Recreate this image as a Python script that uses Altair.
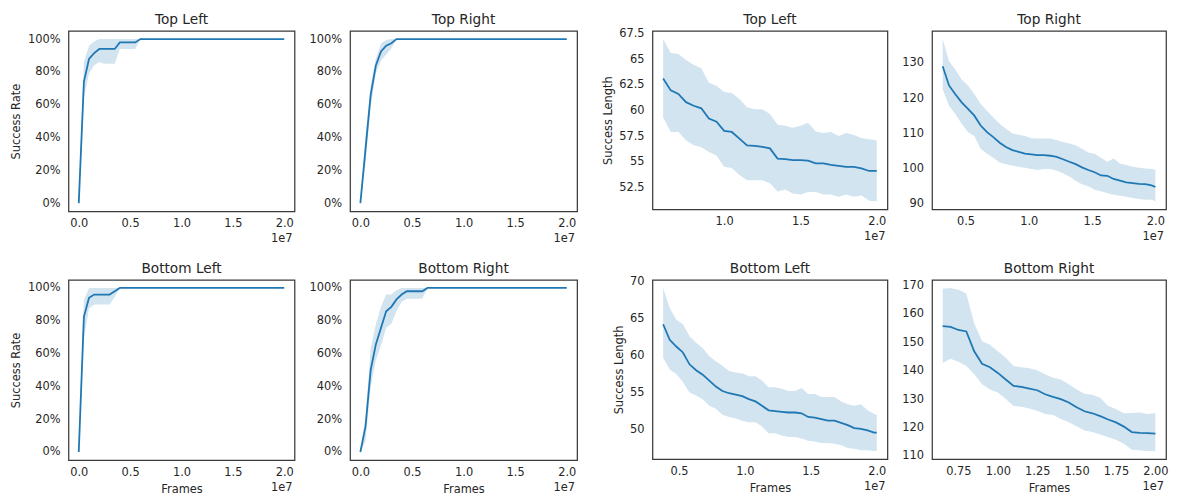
import altair as alt
import pandas as pd

FONT = "DejaVu Sans"
INK = "#262626"
BLUE = "#1f77b4"

# ---------------- Success rate (frames in units of 1e7) ----------------
sr_tl_frames = [0.0, 0.05, 0.1, 0.15, 0.2, 0.25, 0.3, 0.35, 0.4, 0.45, 0.5, 0.55, 0.6, 2.0]
sr_tl_mean = [0.0, 0.74, 0.88, 0.915, 0.94, 0.94, 0.94, 0.94, 0.98, 0.98, 0.98, 0.98, 1.0, 1.0]
sr_tl_hi = [0.0, 0.86, 0.96, 0.985, 1.0, 1.0, 1.0, 1.0, 1.0, 1.0, 1.0, 1.0, 1.0, 1.0]
sr_tl_lo = [0.0, 0.64, 0.79, 0.84, 0.86, 0.85, 0.85, 0.85, 0.94, 0.94, 0.94, 0.94, 1.0, 1.0]

sr_tr_frames = [0.0, 0.05, 0.1, 0.15, 0.2, 0.25, 0.3, 0.35, 2.0]
sr_tr_mean = [0.0, 0.33, 0.66, 0.84, 0.925, 0.96, 0.975, 1.0, 1.0]
sr_tr_hi = [0.0, 0.42, 0.72, 0.88, 0.975, 0.995, 1.0, 1.0, 1.0]
sr_tr_lo = [0.0, 0.24, 0.59, 0.79, 0.87, 0.905, 0.945, 1.0, 1.0]

sr_bl_frames = [0.0, 0.05, 0.1, 0.15, 0.2, 0.25, 0.3, 0.35, 0.4, 2.0]
sr_bl_mean = [0.0, 0.824, 0.94, 0.96, 0.96, 0.96, 0.96, 0.98, 1.0, 1.0]
sr_bl_hi = [0.0, 0.925, 1.0, 1.0, 1.0, 1.0, 1.0, 1.0, 1.0, 1.0]
sr_bl_lo = [0.0, 0.69, 0.875, 0.90, 0.90, 0.90, 0.90, 0.945, 1.0, 1.0]

sr_br_frames = [0.0, 0.05, 0.1, 0.15, 0.2, 0.25, 0.3, 0.35, 0.4, 0.45, 0.5, 0.55, 0.6, 0.65, 2.0]
sr_br_mean = [0.0, 0.156, 0.50, 0.656, 0.757, 0.858, 0.885, 0.93, 0.96, 0.98, 0.98, 0.98, 0.98, 1.0, 1.0]
sr_br_hi = [0.0, 0.217, 0.63, 0.78, 0.885, 0.96, 0.96, 0.986, 1.0, 1.0, 1.0, 1.0, 1.0, 1.0, 1.0]
sr_br_lo = [0.0, 0.065, 0.40, 0.56, 0.65, 0.757, 0.78, 0.86, 0.915, 0.935, 0.935, 0.935, 0.935, 1.0, 1.0]

# ---------------- Success length ----------------
sl_tl_frames = [0.6, 0.65, 0.7, 0.75, 0.8, 0.85, 0.9, 0.95, 1.0, 1.05, 1.1, 1.15, 1.2, 1.25, 1.3,
                1.35, 1.4, 1.45, 1.5, 1.55, 1.6, 1.65, 1.7, 1.75, 1.8, 1.85, 1.9, 1.95, 2.0]
sl_tl_mean = [63.1, 61.95, 61.6, 60.8, 60.45, 60.2, 59.2, 58.9, 58.0, 57.9, 57.25, 56.6, 56.55, 56.45, 56.3,
              55.3, 55.25, 55.15, 55.15, 55.1, 54.85, 54.85, 54.7, 54.6, 54.5, 54.5, 54.35, 54.1, 54.1]
sl_tl_hi = [66.95, 65.6, 65.5, 64.9, 64.45, 64.1, 62.7, 62.4, 61.8, 61.7, 61.1, 60.3, 60.1, 60.1, 59.65,
            58.6, 58.5, 58.3, 58.5, 58.8, 57.95, 57.8, 57.9, 57.5, 57.8, 57.6, 57.3, 57.2, 57.1]
sl_tl_lo = [59.3, 57.9, 57.9, 57.1, 56.6, 56.4, 55.96, 55.6, 54.5, 54.4, 53.7, 53.2, 53.2, 53.2, 52.9,
            52.1, 52.3, 51.9, 51.8, 52.05, 52.05, 51.8, 51.8, 51.6, 51.8, 51.6, 51.7, 51.2, 51.15]

sl_tr_frames = [0.32, 0.37, 0.42, 0.47, 0.52, 0.57, 0.62, 0.67, 0.72, 0.77, 0.82, 0.87, 0.92, 0.97,
                1.02, 1.07, 1.12, 1.17, 1.22, 1.27, 1.32, 1.37, 1.42, 1.47, 1.52, 1.57, 1.62, 1.67,
                1.72, 1.77, 1.82, 1.87, 1.92, 1.97, 2.0]
sl_tr_mean = [129.06, 123.6, 121.1, 118.8, 116.9, 115.0, 112.2, 110.3, 108.9, 107.3, 106.1, 105.2, 104.7,
              104.2, 104.0, 103.8, 103.8, 103.6, 103.3, 102.6, 101.9, 101.2, 100.3, 99.55, 98.9, 98.0,
              97.9, 97.0, 96.5, 96.0, 95.8, 95.6, 95.5, 95.15, 94.7]
sl_tr_hi = [136.8, 130.5, 128.1, 125.3, 123.6, 121.1, 118.3, 116.4, 114.5, 112.7, 111.3, 109.9, 109.6,
            109.2, 108.6, 108.5, 108.5, 108.5, 108.0, 107.5, 107.05, 106.6, 105.6, 104.5, 104.2, 103.0,
            101.9, 102.8, 101.4, 101.0, 100.5, 100.2, 100.0, 99.8, 99.55]
sl_tr_lo = [122.5, 117.8, 115.5, 112.7, 110.3, 109.2, 105.6, 104.2, 103.0, 101.7, 101.2, 100.8, 100.5,
            100.2, 99.8, 99.55, 99.8, 99.8, 99.3, 98.6, 97.7, 96.5, 95.5, 94.9, 93.9, 93.5, 93.0, 92.5,
            92.2, 91.9, 91.6, 91.3, 91.1, 91.1, 90.65]

sl_bl_frames = [0.38, 0.43, 0.48, 0.53, 0.58, 0.63, 0.68, 0.73, 0.78, 0.83, 0.88, 0.93, 0.98, 1.03,
                1.08, 1.13, 1.18, 1.23, 1.28, 1.33, 1.38, 1.43, 1.48, 1.53, 1.58, 1.63, 1.68, 1.73,
                1.78, 1.83, 1.88, 1.93, 1.98, 2.0]
sl_bl_mean = [64.2, 62.1, 61.2, 60.4, 58.8, 58.0, 57.4, 56.6, 55.8, 55.2, 54.9, 54.7, 54.5, 54.1, 53.8,
              53.2, 52.6, 52.5, 52.4, 52.3, 52.3, 52.2, 51.7, 51.6, 51.4, 51.2, 51.2, 50.9, 50.6, 50.2,
              50.1, 49.9, 49.6, 49.6]
sl_bl_hi = [69.1, 66.4, 64.8, 64.2, 62.6, 61.7, 61.0, 59.9, 59.2, 58.6, 57.9, 57.7, 57.6, 57.2, 57.2,
            56.6, 55.7, 55.7, 55.5, 55.2, 55.2, 55.6, 54.8, 54.8, 54.4, 54.4, 54.4, 53.8, 53.4, 53.2,
            53.4, 52.6, 52.1, 52.0]
sl_bl_lo = [59.7, 58.1, 57.5, 56.4, 55.0, 54.6, 54.1, 53.2, 52.8, 52.0, 51.7, 51.5, 51.2, 51.0, 51.0,
            50.4, 49.5, 49.5, 49.2, 49.0, 49.0, 48.8, 48.5, 48.4, 48.2, 48.2, 48.1, 47.9, 47.5, 47.4,
            47.2, 47.2, 47.1, 47.1]

sl_br_frames = [0.65, 0.7, 0.75, 0.8, 0.85, 0.9, 0.95, 1.0, 1.05, 1.1, 1.15, 1.2, 1.25, 1.3, 1.35,
                1.4, 1.45, 1.5, 1.55, 1.6, 1.65, 1.7, 1.75, 1.8, 1.85, 1.9, 1.95, 2.0]
sl_br_mean = [155.7, 155.4, 154.3, 153.8, 146.8, 142.4, 141.2, 139.2, 136.9, 134.6, 134.3, 133.7, 133.1,
              131.7, 130.8, 130.0, 128.8, 127.1, 125.7, 125.0, 124.0, 122.8, 121.8, 120.3, 118.4, 118.1,
              118.0, 117.8]
sl_br_hi = [168.8, 169.1, 168.5, 167.1, 156.7, 150.3, 149.1, 146.8, 144.5, 141.6, 141.2, 140.8, 140.1,
            138.7, 137.5, 136.9, 135.2, 133.4, 131.9, 131.5, 130.5, 127.6, 126.5, 125.0, 125.1, 125.3,
            124.7, 125.0]
sl_br_lo = [142.7, 144.2, 143.1, 141.6, 138.7, 135.2, 133.4, 132.3, 130.0, 127.6, 127.3, 126.7, 125.9,
            124.7, 124.4, 123.0, 121.8, 120.4, 118.9, 118.4, 117.5, 116.6, 115.7, 114.3, 112.2, 112.0,
            111.7, 111.7]

# tick values
sr_xticks = [0.0, 0.5, 1.0, 1.5, 2.0]
sr_yticks = [0.0, 0.2, 0.4, 0.6, 0.8, 1.0]
sl_tl_xticks = [1.0, 1.5, 2.0]
sl_tl_yticks = [52.5, 55, 57.5, 60, 62.5, 65, 67.5]
sl_tr_xticks = [0.5, 1.0, 1.5, 2.0]
sl_tr_yticks = [90, 100, 110, 120, 130]
sl_bl_xticks = [0.5, 1.0, 1.5, 2.0]
sl_bl_yticks = [50, 55, 60, 65, 70]
sl_br_xticks = [0.75, 1.0, 1.25, 1.5, 1.75, 2.0]
sl_br_yticks = [110, 120, 130, 140, 150, 160, 170]


def panel(x, mean, lo, hi, title, W, H, T, B, L, xticks, xfmt, yticks, yfmt,
          ytitle="", ytpad=0, xtitle=""):
    df = pd.DataFrame({"frames": x, "mean": mean, "lo": lo, "hi": hi})
    xr = max(x) - min(x)
    yr = max(hi) - min(lo)
    xs = alt.Scale(domain=[min(x) - 0.05 * xr, max(x) + 0.05 * xr], nice=False, zero=False)
    ys = alt.Scale(domain=[min(lo) - 0.05 * yr, max(hi) + 0.05 * yr], nice=False, zero=False)
    xaxis = alt.Axis(values=xticks, format=xfmt, title=xtitle, labelPadding=6.7,
                     minExtent=16, maxExtent=16, titlePadding=7.7)
    yaxis = alt.Axis(values=yticks, format=yfmt, title=ytitle, labelPadding=8.5,
                     minExtent=24, maxExtent=24, titlePadding=ytpad)
    band = alt.Chart(df).mark_area(color=BLUE, opacity=0.2).encode(
        x=alt.X("frames:Q", scale=xs, axis=xaxis),
        y=alt.Y("lo:Q", scale=ys, axis=yaxis),
        y2="hi:Q",
    )
    line = alt.Chart(df).mark_line(color=BLUE, strokeWidth=1.8).encode(
        x=alt.X("frames:Q", scale=xs, axis=xaxis),
        y=alt.Y("mean:Q", scale=ys, axis=yaxis),
    )
    offset_txt = alt.Chart(pd.DataFrame({"t": ["1e7"]})).mark_text(
        align="right", baseline="alphabetic", font=FONT, fontSize=11.5, color=INK,
        fontWeight="normal"
    ).encode(x=alt.value(W - 2), y=alt.value(H + 31), text="t:N")
    title_txt = alt.Chart(pd.DataFrame({"t": [title]})).mark_text(
        align="center", baseline="alphabetic", font=FONT, fontSize=13.8, color=INK,
        fontWeight="normal"
    ).encode(x=alt.value(W / 2), y=alt.value(-6.6), text="t:N")
    box = alt.Chart(pd.DataFrame({"t": [0]})).mark_rect(opacity=0).encode(
        x=alt.value(-L), x2=alt.value(W + 1), y=alt.value(-T), y2=alt.value(H + B)
    )
    return alt.layer(box, band, line, offset_txt, title_txt).properties(width=W, height=H)


p1 = panel(sr_tl_frames, sr_tl_mean, sr_tl_lo, sr_tl_hi, "Top Left", 228, 182, 18, 46, 60,
           sr_xticks, ".1f", sr_yticks, ".0%", ytitle="Success Rate", ytpad=23)
p2 = panel(sr_tr_frames, sr_tr_mean, sr_tr_lo, sr_tr_hi, "Top Right", 229, 182, 18, 46, 53,
           sr_xticks, ".1f", sr_yticks, ".0%")
p3 = panel(sl_tl_frames, sl_tl_mean, sl_tl_lo, sl_tl_hi, "Top Left", 237, 180, 20, 46, 73,
           sl_tl_xticks, ".1f", sl_tl_yticks, ".1~f", ytitle="Success Length", ytpad=15)
p4 = panel(sl_tr_frames, sl_tr_mean, sl_tr_lo, sl_tr_hi, "Top Right", 236, 180, 20, 46, 42,
           sl_tr_xticks, ".1f", sl_tr_yticks, ".1~f")
p5 = panel(sr_bl_frames, sr_bl_mean, sr_bl_lo, sr_bl_hi, "Bottom Left", 228, 182, 20, 36, 60,
           sr_xticks, ".1f", sr_yticks, ".0%", ytitle="Success Rate", ytpad=23, xtitle="Frames")
p6 = panel(sr_br_frames, sr_br_mean, sr_br_lo, sr_br_hi, "Bottom Right", 229, 182, 20, 36, 53,
           sr_xticks, ".1f", sr_yticks, ".0%", xtitle="Frames")
p7 = panel(sl_bl_frames, sl_bl_mean, sl_bl_lo, sl_bl_hi, "Bottom Left", 237, 181, 21, 36, 73,
           sl_bl_xticks, ".1f", sl_bl_yticks, ".1~f", ytitle="Success Length", ytpad=4.7, xtitle="Frames")
p8 = panel(sl_br_frames, sl_br_mean, sl_br_lo, sl_br_hi, "Bottom Right", 236, 181, 21, 36, 42,
           sl_br_xticks, ".2f", sl_br_yticks, ".1~f", xtitle="Frames")

row1 = alt.hconcat(p1, p2, p3, p4, spacing=0)
row2 = alt.hconcat(p5, p6, p7, p8, spacing=0)

chart = (
    alt.vconcat(row1, row2, spacing=0)
    .properties(padding={"left": 0, "top": 0, "right": 0, "bottom": 0})
    .configure_view(stroke="#3a3a3a", strokeWidth=1.25)
    .configure_axis(
        labelFont=FONT, titleFont=FONT, labelFontSize=11.5, titleFontSize=11.5,
        titleFontWeight="normal", labelColor=INK, titleColor=INK,
        ticks=False, tickSize=0, domain=False, grid=False,
    )
)

chart.save("out.html", embed_options={"renderer": "svg", "actions": False})
